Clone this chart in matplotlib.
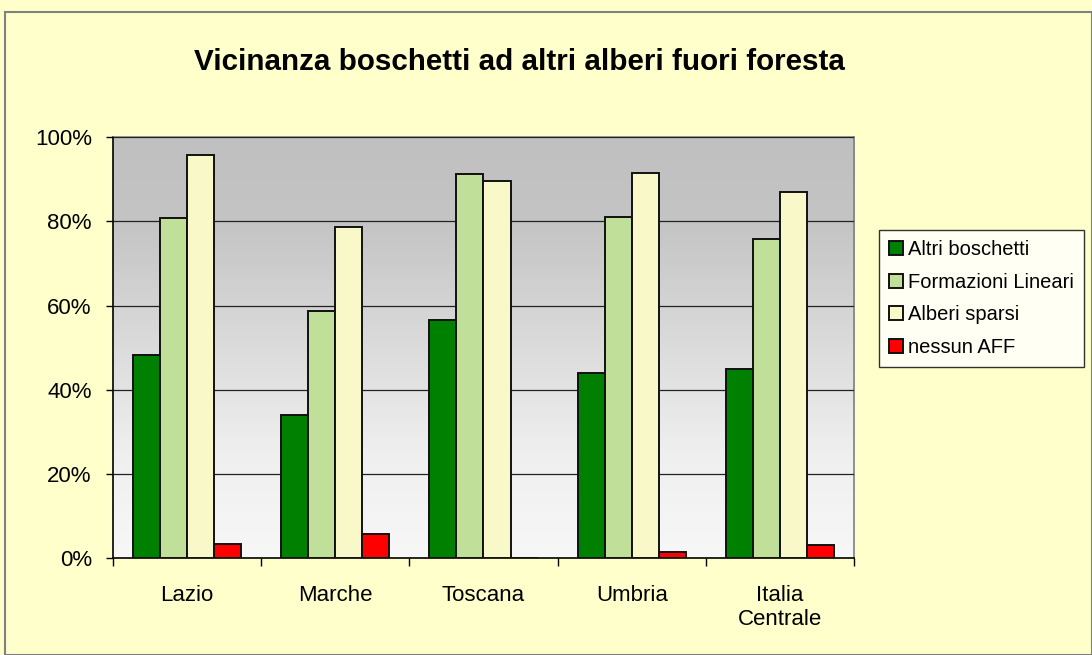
import numpy as np
import matplotlib
matplotlib.use("Agg")
import matplotlib.pyplot as plt
from matplotlib.patches import Rectangle
from matplotlib.ticker import FuncFormatter

plt.rcParams['font.family'] = ['Liberation Sans', 'DejaVu Sans']

regioni = ['Lazio', 'Marche', 'Toscana', 'Umbria', 'Italia\nCentrale']
serie = ['Altri boschetti', 'Formazioni Lineari', 'Alberi sparsi', 'nessun AFF']
altri_boschetti = [48.3, 34.0, 56.6, 44.1, 45.0]
formazioni_lineari = [80.8, 58.7, 91.2, 81.1, 75.8]
alberi_sparsi = [95.8, 78.7, 89.5, 91.6, 87.1]
nessun_aff = [3.3, 5.8, 0.0, 1.6, 3.2]
colori = ['#008000', '#C0DF98', '#F8F8C8', '#FF0000']

fig = plt.figure(figsize=(10.92, 6.55), dpi=100, facecolor='#FFFFCC')
fig.patches.append(Rectangle((0.005, 0.0), 0.995, 0.982, transform=fig.transFigure,
                             fill=False, edgecolor='#808080', linewidth=1.5))

ax = fig.add_axes([0.1032, 0.1476, 0.6791, 0.6428])
ax.set_facecolor('#F5F5F5')

# sfondo sfumato dell'area del grafico
grad = np.linspace(0, 1, 256).reshape(-1, 1)
cmap = matplotlib.colors.LinearSegmentedColormap.from_list(
    'g', [(0, '#F7F7F7'), (0.25, '#EFEFEF'), (0.8, '#C4C4C4'), (1, '#C0C0C0')])
ax.imshow(grad, aspect='auto', cmap=cmap, origin='lower',
          extent=[-0.5, len(regioni) - 0.5, 0, 100], zorder=0)

x = np.arange(len(regioni))
w = 0.183
valori = [altri_boschetti, formazioni_lineari, alberi_sparsi, nessun_aff]
for i, (vals, col, nome) in enumerate(zip(valori, colori, serie)):
    ax.bar(x + (i - 1.5) * w, vals, width=w, color=col, edgecolor='#111111',
           linewidth=1.4, label=nome, zorder=3)

ax.set_xlim(-0.5, len(regioni) - 0.5)
ax.set_ylim(0, 100)
ax.set_yticks([0, 20, 40, 60, 80, 100])
ax.yaxis.set_major_formatter(FuncFormatter(lambda v, p: f'{int(v)}%'))
ax.grid(axis='y', color='#222222', linewidth=0.9, zorder=1)
ax.set_axisbelow(False)

ax.set_xticks(x)
ax.set_xticklabels(regioni)
ax.set_xticks(np.arange(-0.5, len(regioni)), minor=True)
ax.tick_params(axis='x', which='major', length=0, pad=19, labelsize=16)
ax.tick_params(axis='x', which='minor', length=6, width=1)
ax.tick_params(axis='y', length=5, width=1, labelsize=16, pad=10)

for s in ['top', 'right']:
    ax.spines[s].set_color('#808080')
    ax.spines[s].set_linewidth(1.2)
for s in ['left', 'bottom']:
    ax.spines[s].set_color('black')
    ax.spines[s].set_linewidth(1.2)

fig.text(0.476, 0.905, 'Vicinanza boschetti ad altri alberi fuori foresta',
         ha='center', va='center', fontsize=21.3, fontweight='bold')

leg = fig.legend(loc='upper left', bbox_to_anchor=(0.805, 0.649), frameon=True,
                 fancybox=False, edgecolor='black', facecolor='white',
                 fontsize=14.5, handlelength=0.7, handleheight=0.7,
                 handletextpad=0.25, labelspacing=0.68, borderpad=0.5,
                 borderaxespad=0)
leg.get_frame().set_linewidth(1.0)

fig.savefig('out.png', dpi=100, facecolor=fig.get_facecolor())
